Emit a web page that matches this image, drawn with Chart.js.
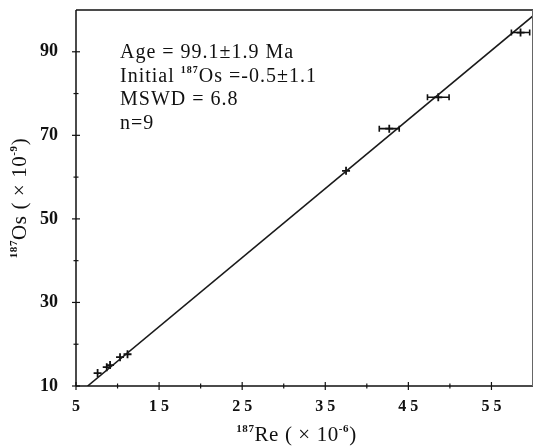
<!DOCTYPE html>
<html>
<head>
<meta charset="utf-8">
<script src="https://cdn.jsdelivr.net/npm/chart.js@4.4.0/dist/chart.umd.min.js"></script>
<style>
  html, body { margin: 0; padding: 0; background: #fff; overflow: hidden; }
  canvas { display: block; }
</style>
</head>
<body>
<canvas id="myChart" width="534" height="446"></canvas>
<script>
// data
let reValues = [7.6, 8.7, 9.1, 10.3, 11.2, 37.5, 42.7, 48.6, 58.5];
let osValues = [13.1, 14.5, 15.0, 16.9, 17.6, 61.5, 71.6, 79.1, 94.6];
let reErrors = [0.3, 0.3, 0.3, 0.3, 0.3, 0.2, 1.2, 1.3, 1.1];

// isochron line ends
let lineRe = [6.4, 60];
let lineOs = [10, 98.6];

let xTickValues = [5, 15, 25, 35, 45, 55];
let xTickLabels = ['5', '1 5', '2 5', '3 5', '4 5', '5 5'];
let yTickValues = [10, 30, 50, 70, 90];
let yTickLabels = ['10', '30', '50', '70', '90'];

let notes = [
    [{t: 'Age = 99.1\u00b11.9 Ma'}],
    [{t: 'Initial '}, {t: '187', sup: true}, {t: 'Os =-0.5\u00b11.1'}],
    [{t: 'MSWD = 6.8'}],
    [{t: 'n=9'}]
];

const serif = "'Liberation Serif', 'Times New Roman', serif";

// draws text made of normal and superscript bits, returns width
function richText(ctx, parts, x, y, size, align, spacing){
    let w = 0;
    ctx.letterSpacing = spacing + 'px';
    parts.forEach(p => {
        ctx.font = p.sup ? 'bold ' + Math.round(size * 0.5) + 'px ' + serif : size + 'px ' + serif;
        w += ctx.measureText(p.t).width;
    });
    let cx = align === 'center' ? x - w / 2 : x;
    parts.forEach(p => {
        ctx.font = p.sup ? 'bold ' + Math.round(size * 0.5) + 'px ' + serif : size + 'px ' + serif;
        ctx.fillText(p.t, cx, p.sup ? y - size * 0.42 : y);
        cx += ctx.measureText(p.t).width;
    });
    ctx.letterSpacing = '0px';
    return w;
}

const extras = {
    id: 'extras',
    afterDatasetsDraw(chart){
        const ctx = chart.ctx;
        const xs = chart.scales.x, ys = chart.scales.y;
        const a = chart.chartArea;
        ctx.save();
        ctx.strokeStyle = '#111';
        ctx.fillStyle = '#111';

        // error bars
        ctx.lineWidth = 1.6;
        reValues.forEach((v, i) => {
            if (reErrors[i] < 0.5) return;
            const x1 = xs.getPixelForValue(v - reErrors[i]);
            const x2 = xs.getPixelForValue(v + reErrors[i]);
            const py = ys.getPixelForValue(osValues[i]);
            ctx.beginPath();
            ctx.moveTo(x1, py); ctx.lineTo(x2, py);
            ctx.moveTo(x1, py - 3); ctx.lineTo(x1, py + 3);
            ctx.moveTo(x2, py - 3); ctx.lineTo(x2, py + 3);
            ctx.stroke();
        });

        // frame
        ctx.lineWidth = 1.5;
        ctx.beginPath();
        ctx.moveTo(a.left, a.top); ctx.lineTo(a.right, a.top);
        ctx.moveTo(a.left, a.top); ctx.lineTo(a.left, a.bottom);
        ctx.moveTo(a.left, a.bottom); ctx.lineTo(a.right, a.bottom);
        ctx.stroke();
        ctx.lineWidth = 1;
        ctx.strokeStyle = '#666';
        ctx.beginPath();
        ctx.moveTo(a.right - 0.5, a.top); ctx.lineTo(a.right - 0.5, a.bottom);
        ctx.stroke();

        // ticks crossing the axes
        ctx.strokeStyle = '#111';
        ctx.lineWidth = 1.2;
        for (let v = 5; v < 60; v += 5){
            const px = xs.getPixelForValue(v);
            const len = xTickValues.includes(v) ? 4 : 2.5;
            ctx.beginPath();
            ctx.moveTo(px, a.bottom - len); ctx.lineTo(px, a.bottom + len);
            ctx.stroke();
        }
        for (let v = 10; v < 100; v += 10){
            const py = ys.getPixelForValue(v);
            const len = yTickValues.includes(v) ? 4 : 2.5;
            ctx.beginPath();
            ctx.moveTo(a.left - len, py); ctx.lineTo(a.left + len, py);
            ctx.stroke();
        }

        // notes
        ctx.textBaseline = 'alphabetic';
        ctx.textAlign = 'left';
        notes.forEach((n, i) => richText(ctx, n, 120, 58 + i * 23.5, 20, 'left', 1));

        // axis titles
        richText(ctx, [{t: '187', sup: true}, {t: 'Re ( \u00d7 10'}, {t: '-6', sup: true}, {t: ')'}],
            (a.left + a.right) / 2 - 8, 441, 21, 'center', 0.6);
        ctx.translate(26, (a.top + a.bottom) / 2);
        ctx.rotate(-Math.PI / 2);
        richText(ctx, [{t: '187', sup: true}, {t: 'Os ( \u00d7 10'}, {t: '-9', sup: true}, {t: ')'}],
            0, 0, 21, 'center', 0.6);
        ctx.restore();
    }
};

var ctx = document.getElementById('myChart').getContext('2d');
var chart = new Chart(ctx, {
    type: 'scatter',
    data: {
        datasets: [{
            label: 'isochron',
            type: 'line',
            data: lineRe.map((v, i) => ({x: v, y: lineOs[i]})),
            borderColor: '#1a1a1a',
            borderWidth: 1.6,
            pointRadius: 0,
            fill: false
        }, {
            label: 'samples',
            data: reValues.map((v, i) => ({x: v, y: osValues[i]})),
            pointStyle: 'cross',
            pointRadius: 4,
            borderColor: '#111',
            borderWidth: 1.8
        }]
    },
    options: {
        responsive: false,
        animation: false,
        layout: {autoPadding: false, padding: {top: 10, right: 1, left: 0, bottom: 0}},
        plugins: {legend: {display: false}, tooltip: {enabled: false}},
        scales: {
            x: {
                type: 'linear', min: 5, max: 60,
                grid: {display: false, drawTicks: false},
                border: {display: false},
                afterFit(s){ s.height = 60; s.paddingLeft = 0; s.paddingRight = 0; },
                ticks: {
                    stepSize: 5, padding: 11, maxRotation: 0, autoSkip: false,
                    color: '#111',
                    font: {family: serif, size: 16, weight: 'bold'},
                    callback: v => {
                        const i = xTickValues.indexOf(v);
                        return i >= 0 ? xTickLabels[i] : '';
                    }
                }
            },
            y: {
                type: 'linear', min: 10, max: 100,
                grid: {display: false, drawTicks: false},
                border: {display: false},
                afterFit(s){ s.width = 76; s.paddingTop = 0; s.paddingBottom = 0; },
                ticks: {
                    stepSize: 10, padding: 18, autoSkip: false,
                    color: '#111',
                    font: {family: serif, size: 18, weight: 'bold'},
                    callback: v => {
                        const i = yTickValues.indexOf(v);
                        return i >= 0 ? yTickLabels[i] : '';
                    }
                }
            }
        }
    },
    plugins: [extras]
});
</script>
</body>
</html>
